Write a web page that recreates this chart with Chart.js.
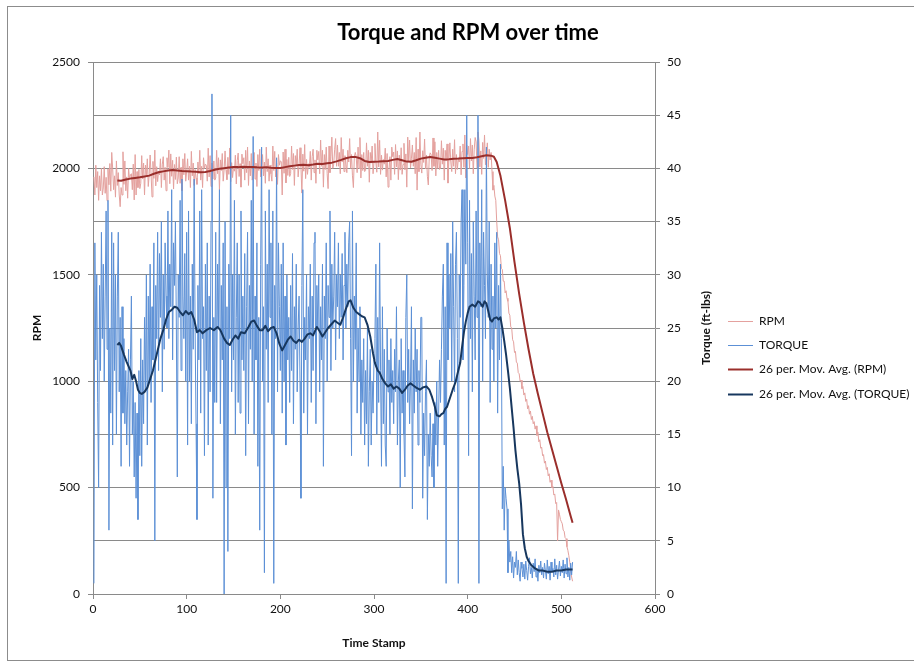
<!DOCTYPE html>
<html>
<head>
<meta charset="utf-8">
<script src="https://cdn.jsdelivr.net/npm/chart.js@4.4.1/dist/chart.umd.min.js"></script>
<style>
html,body{margin:0;padding:0;background:#fff;}
#wrap{position:relative;width:914px;height:663px;}
canvas{display:block;}
</style>
</head>
<body>
<div id="wrap"><canvas id="c" width="914" height="663"></canvas></div>
<script>
// ---------- DATA ----------
const chartTitle = 'Torque and RPM over time';
const xTitle = 'Time Stamp';
const yLeftTitle = 'RPM';
const yRightTitle = 'Torque (ft-lbs)';
const seriesLabels = ['RPM', 'TORQUE', '26 per. Mov. Avg. (RPM)', '26 per. Mov. Avg. (TORQUE)'];
const xTicks = [0, 100, 200, 300, 400, 500, 600];
const rpmTicks = [0, 500, 1000, 1500, 2000, 2500];
const torqueTicks = [0, 5, 10, 15, 20, 25, 30, 35, 40, 45, 50];
const firstTimeStamp = 1; // samples are taken once per time stamp

// RPM, one value per time stamp (1..512)
const rpm = [
1960,1875,2015,1910,1985,1850,1965,1895,2000,1875,
1908,2008,1883,1958,1848,1998,1923,2023,1893,2075,
2000,1900,1965,1865,2035,1920,1980,1875,1820,1910,
1875,2078,1925,2035,1895,1960,1860,2000,1950,1970,
1975,1900,2020,1852,2065,1875,1985,1910,1995,1905,
1930,2060,1950,2025,1875,2015,1965,2045,1915,1970,
2063,1973,1866,2033,1953,2086,1918,2008,1938,1988,
1970,2045,1910,2020,2055,1945,2005,1895,2050,2005,
2086,1928,2068,1963,2038,1903,2018,1948,2053,1928,
1955,2055,1930,2005,1895,2045,1970,2070,1940,1985,
2045,1945,2010,1910,2080,1965,2025,1920,1995,1955,
1925,2030,1975,2085,1945,2010,1910,2050,2000,2020,
2015,1940,2095,1960,2060,1915,2025,1950,2035,1945,
1955,2085,1975,2050,1900,2040,1990,2070,1940,1995,
2082,1992,1947,2052,1972,2096,1937,2027,1957,2007,
1987,2062,1927,2037,2072,1962,2022,1912,2067,2022,
2050,1945,2085,1980,2100,1920,2035,1965,2070,1945,
1975,2075,1950,2025,1915,2065,1990,2090,1960,2005,
2065,1965,2030,1930,2100,1985,2045,1940,2015,1975,
1940,2105,1990,2080,1960,2025,1925,2065,2015,2035,
2032,1875,2077,1977,2090,1932,2042,1967,2052,1962,
1975,2105,1995,2070,1920,2060,2010,2090,1960,2015,
2097,2007,1884,2067,1987,2112,1952,2042,1972,2022,
2005,2080,1945,2055,2090,1980,2040,1930,2085,2040,
2080,1975,2133,2010,2085,1912,2065,1995,2100,1975,
1905,2105,1980,2055,2147,2000,2020,2090,2140,2010,
2110,2010,2075,1975,2145,2030,2090,1985,2060,2020,
1980,2085,2030,2140,2000,2065,1965,1910,2055,2075,
2055,1980,2100,2000,2145,1955,2065,1990,2075,1985,
1990,2120,2010,2085,1935,2075,2025,2105,1975,2030,
2117,2027,1982,2171,2007,2132,1972,2062,1992,2042,
2020,2095,1960,2070,1912,1995,2055,1945,2100,2055,
2077,1972,2112,2007,2082,1947,2062,1992,2097,1972,
2018,2118,1993,2068,1912,2147,2033,2133,2003,2048,
2110,2010,2075,1975,2145,1898,2090,1985,2171,2020,
1978,2083,2028,2138,1998,2063,1963,1922,2053,2073,
2065,1990,2143,2010,2125,1965,2075,2000,2085,1995,
2000,2130,2020,2095,1945,2085,2035,2115,1931,2040,
2120,2030,1985,2090,2010,2135,1975,2065,1995,2045,
2030,2105,1970,2080,2115,2005,2157,1955,2110,2065,
2105,2000,2140,2035,2110,1975,2090,2145,2125,2000,
2171,2132,2007,2082,1972,2122,2047,2157,2017,2062,
2120,2005,2090,2040,2075,1985,1898,1920,1870,1850,
1750,1678,1665,1600,1590,1530,1525,1470,1470,1415,
1425,1390,1375,1320,1310,1255,1250,1195,1185,1135,
1140,1090,1085,1040,1035,1000,1005,965,975,935,
945,905,915,870,885,845,860,820,835,800,
810,775,790,745,760,715,725,685,690,650,
655,615,625,585,595,555,565,525,535,500,
505,465,470,425,430,250,395,375,350,340,
330,300,295,265,260,222,205,180,150,115,
80,60
];

// TORQUE (ft-lbs), one value per time stamp (1..512)
const torque = [
1,33,22,30,18,10,29,21,34,24,
31,20,28,36,23,37,6,25,17,34,
14,33,21,30,15,28,34,19,26,12,
27,17,24,16,21,14,19,23,12,22,
28,15,20,11,18,9,17,7,21,13,
24,12,22,16,26,19,30,14,28,20,
31,18,27,22,33,5,29,24,34,21,
32,26,35,19,30,23,33,28,25,36,
24,31,27,38,22,33,29,35,25,11,
30,26,37,21,39,28,24,32,20,34,
14,36,20,28,16,31,23,39,25,16,
7,29,22,36,17,38,24,27,13,31,
21,33,14,28,19,35,47,9,26,18,
34,18,31,25,38,16,29,22,33,0,
35,10,27,4,31,24,45,19,30,22,
37,15,26,33,18,30,17,36,22,28,
21,32,13,27,34,16,29,23,37,20,
43,15,28,22,33,12,26,6,31,42,
20,27,2,36,23,31,18,38,26,33,
15,36,1,29,24,41,19,33,27,21,
31,17,33,20,28,14,30,22,26,18,
29,21,32,16,27,23,31,19,25,28,
20,9,29,38,17,26,22,30,15,27,
24,31,18,28,21,33,34,16,29,25,
30,19,27,22,31,12,28,24,33,20,
29,26,36,21,31,25,28,34,22,30,
27,33,24,30,26,32,22,29,34,25,
31,27,33,35,24,13,36,20,28,23,
33,17,25,20,27,15,22,18,24,14,
21,16,25,12,19,23,14,20,17,22,
24,31,15,26,18,33,21,12,27,16,
23,14,12,25,19,22,15,24,18,21,
16,23,19,27,14,20,22,10,24,17,
21,15,11,26,30,18,23,16,20,27,
8,22,17,25,19,23,14,21,18,26,
26,9,17,13,19,22,7,15,12,17,
13,11,16,10,18,14,20,12,17,22,
18,23,28,31,14,27,1,33,22,30,
25,32,20,35,27,19,31,34,24,1,
30,26,35,38,22,29,38,31,45,33,
13,37,24,32,19,35,28,22,36,26,
45,1,33,27,38,20,34,29,24,42,
30,26,35,18,31,23,28,20,33,25,
34,17,29,22,31,24,8,12,6,10,
9,8,2,5,3,4,2,3.5,1.5,3,
2.5,4,1.8,3.2,2,1.2,3,2.4,1.6,2.8,
1.4,3.1,2.2,1.3,2.6,3.4,1.9,2.5,1.5,2.9,
2.1,3.3,1.6,2.4,1.2,2.7,2,3.1,1.8,2.5,
1.5,2.9,2.2,1.4,3.2,1.9,2.6,1.3,3,2.1,
2.4,1.6,3.3,1.8,2.7,1.4,2.3,3.1,1.7,2.6,
2,3.2,1.5,2.8,1.9,3.4,1.6,2.5,1.3,2.9,
1.8,3
];

// 26-period moving average of RPM
const maRpmTime = [26,30,35,40,45,50,55,60,65,70,75,80,85,90,95,100,105,110,115,120,125,130,135,140,145,150,155,160,165,170,175,180,185,190,195,200,205,210,215,220,225,230,235,240,245,250,255,260,265,270,275,280,285,290,295,300,305,310,315,320,325,330,335,340,345,350,355,360,365,370,375,380,385,390,395,400,405,410,415,420,425,428,431,435,440,445,450,455,460,465,470,475,480,485,490,495,500,505,510,512];
const maRpm = [1943,1942,1948,1952,1955,1958,1962,1966,1975,1982,1986,1990,1992,1990,1988,1987,1985,1984,1982,1983,1988,1994,1998,2001,2004,2007,2006,2008,2007,2007,2005,2004,2006,2003,2002,2002,2006,2010,2013,2016,2017,2015,2018,2022,2021,2024,2027,2033,2040,2048,2053,2054,2048,2035,2030,2031,2032,2034,2035,2040,2044,2038,2032,2031,2038,2046,2050,2054,2050,2046,2042,2043,2045,2046,2048,2049,2049,2052,2057,2062,2060,2055,2030,1965,1850,1720,1560,1410,1275,1150,1035,940,850,760,680,600,520,445,365,335];

// 26-period moving average of TORQUE
const maTorqueTime = [26,28,30,33,36,40,42,44,46,48,50,52,55,58,61,64,68,72,75,78,81,84,87,90,93,96,99,102,105,108,111,114,117,121,125,129,133,136,140,143,146,149,152,155,158,162,166,169,172,175,178,181,184,187,190,193,196,199,202,205,208,211,214,217,220,223,226,229,232,235,239,242,245,248,251,255,258,261,264,267,270,273,275,278,281,284,287,290,293,296,299,301,304,306,309,312,315,318,321,324,327,330,333,336,339,342,345,349,352,356,359,362,365,367,370,372,374,376,378,381,384,387,390,392,394,396,398,400,402,405,408,411,413,416,418,420,422,424,426,428,431,433,435,437,439,441,443,445,447,449,451,453,455,457,459,461,463,465,468,472,476,480,485,490,495,500,505,510,512];
const maTorque = [23.4,23.6,23.3,22.5,21.8,21.0,20.2,20.6,20.0,19.2,18.9,18.8,19.0,19.4,20.2,21.0,22.5,24.0,24.8,25.8,26.5,26.7,27.0,26.9,26.5,26.2,26.6,26.3,26.5,25.8,24.6,24.8,24.5,24.8,25.0,24.8,25.1,24.8,24.0,23.6,23.4,23.9,24.3,24.0,24.6,24.5,25.1,25.6,25.7,25.2,24.8,24.8,25.2,24.7,25.0,25.1,24.5,23.5,22.9,23.4,23.9,24.2,23.8,23.6,23.9,23.7,24.0,24.4,24.5,24.3,25.1,24.7,24.2,24.6,25.0,25.4,25.7,25.5,25.3,26.0,26.8,27.5,27.6,26.9,26.5,26.3,26.1,26.0,25.3,24.2,22.6,21.7,21.0,20.8,20.2,19.8,19.5,19.7,19.3,19.5,19.3,18.9,19.2,19.6,19.8,19.6,19.4,19.2,19.4,19.5,19.2,18.5,17.6,16.8,16.7,16.9,17.0,17.4,17.6,18.4,19.2,19.9,21.0,21.7,23.2,24.6,25.6,26.4,27.0,27.2,27.0,27.5,27.4,27.0,27.5,27.3,26.6,25.8,25.6,25.9,26.0,25.8,26.0,25.0,23.8,22.5,21.0,19.4,17.5,15.6,13.5,11.8,10.4,8.4,5.6,4.3,3.5,3.1,2.7,2.4,2.2,2.2,2.1,2.1,2.2,2.2,2.3,2.3,2.3];

// ---------- CHART ----------
const timeStamps = rpm.map((_, i) => firstTimeStamp + i);
const pairs = (xs, ys) => ys.map((v, i) => ({x: xs[i], y: v}));

const FONT = 'Lato';
const AXIS_GRAY = '#8a8a8a';
const TEXT = '#111';

const frame = {
  id: 'frame',
  beforeDraw(chart) {
    const c = chart.ctx;
    c.save();
    c.fillStyle = '#fff';
    c.fillRect(0, 0, chart.width, chart.height);
    c.strokeStyle = '#8c8c8c';
    c.lineWidth = 1;
    c.strokeRect(7.5, 6.5, chart.width, chart.height - 9);
    c.restore();
  }
};

const extras = {
  id: 'extras',
  afterDraw(chart) {
    const c = chart.ctx;
    const area = chart.chartArea;
    // chart title, centred as in the reference
    c.save();
    c.fillStyle = '#000';
    c.font = 'bold 22px ' + FONT;
    c.textAlign = 'center';
    c.textBaseline = 'middle';
    c.fillText(chartTitle, 468, 33);
    c.restore();

    // right axis title, reading bottom to top as in the reference
    c.save();
    c.fillStyle = TEXT;
    c.font = 'bold 12px ' + FONT;
    c.textAlign = 'center';
    c.textBaseline = 'middle';
    c.translate(chart.scales.y1.right - 11, (area.top + area.bottom) / 2);
    c.rotate(-Math.PI / 2);
    c.fillText(yRightTitle, 0, 0);
    c.restore();

    // legend
    c.save();
    c.font = '12px ' + FONT;
    c.textBaseline = 'middle';
    c.textAlign = 'left';
    const x0 = area.right + 73;
    const y0 = 321;
    const step = 24.2;
    seriesLabels.forEach((lbl, i) => {
      const ds = chart.data.datasets[i];
      const y = Math.round(y0 + i * step) + 0.5;
      c.strokeStyle = ds.borderColor;
      c.lineWidth = ds.borderWidth;
      c.beginPath();
      c.moveTo(x0, y);
      c.lineTo(x0 + 25, y);
      c.stroke();
      c.fillStyle = TEXT;
      c.fillText(lbl, x0 + 31, y);
    });
    c.restore();
  }
};

Chart.defaults.font.family = FONT;
const plain = v => String(v);

new Chart(document.getElementById('c'), {
  type: 'line',
  data: {
    datasets: [
      {label: seriesLabels[0], data: pairs(timeStamps, rpm), yAxisID: 'y',
       borderColor: '#E4A19E', borderWidth: 1, pointRadius: 0, order: 4},
      {label: seriesLabels[1], data: pairs(timeStamps, torque), yAxisID: 'y1',
       borderColor: '#5C90D6', borderWidth: 1, pointRadius: 0, order: 3},
      {label: seriesLabels[2], data: pairs(maRpmTime, maRpm), yAxisID: 'y',
       borderColor: '#9A2E2B', borderWidth: 2, pointRadius: 0, order: 2},
      {label: seriesLabels[3], data: pairs(maTorqueTime, maTorque), yAxisID: 'y1',
       borderColor: '#17375E', borderWidth: 2, pointRadius: 0, order: 1}
    ]
  },
  options: {
    responsive: false,
    animation: false,
    events: [],
    layout: {padding: {left: 8, right: 197, top: 62, bottom: 9}},
    elements: {line: {tension: 0, borderJoinStyle: 'round'}},
    plugins: {
      legend: {display: false},
      tooltip: {enabled: false},
      title: {display: false}
    },
    scales: {
      x: {
        type: 'linear', min: xTicks[0], max: xTicks[xTicks.length - 1],
        afterBuildTicks: s => { s.ticks = xTicks.map(v => ({value: v})); },
        ticks: {color: TEXT, font: {size: 12}, padding: 3, maxRotation: 0, callback: plain},
        grid: {drawOnChartArea: false, drawTicks: true, tickLength: 5, color: AXIS_GRAY},
        border: {color: AXIS_GRAY},
        title: {display: true, text: xTitle, color: TEXT, font: {size: 12, weight: 'bold'}, padding: {top: 4, bottom: 4}},
        afterFit: s => { s.height = 60; }
      },
      y: {
        position: 'left', min: rpmTicks[0], max: rpmTicks[rpmTicks.length - 1],
        afterBuildTicks: s => { s.ticks = rpmTicks.map(v => ({value: v})); },
        ticks: {color: TEXT, font: {size: 12}, padding: 8, callback: plain},
        grid: {drawOnChartArea: false, drawTicks: true, tickLength: 5, color: AXIS_GRAY},
        border: {color: AXIS_GRAY},
        title: {display: true, text: yLeftTitle, color: TEXT, font: {size: 12, weight: 'bold'}, padding: {top: 22, bottom: 4}},
        afterFit: s => { s.width = 85; }
      },
      y1: {
        position: 'right', min: torqueTicks[0], max: torqueTicks[torqueTicks.length - 1],
        afterBuildTicks: s => { s.ticks = torqueTicks.map(v => ({value: v})); },
        ticks: {color: TEXT, font: {size: 12}, padding: 7, callback: plain},
        grid: {drawOnChartArea: true, drawTicks: true, tickLength: 5, color: AXIS_GRAY},
        border: {color: AXIS_GRAY},
        title: {display: false},
        afterFit: s => { s.width = 62; }
      }
    }
  },
  plugins: [frame, extras]
});
</script>
</body>
</html>
